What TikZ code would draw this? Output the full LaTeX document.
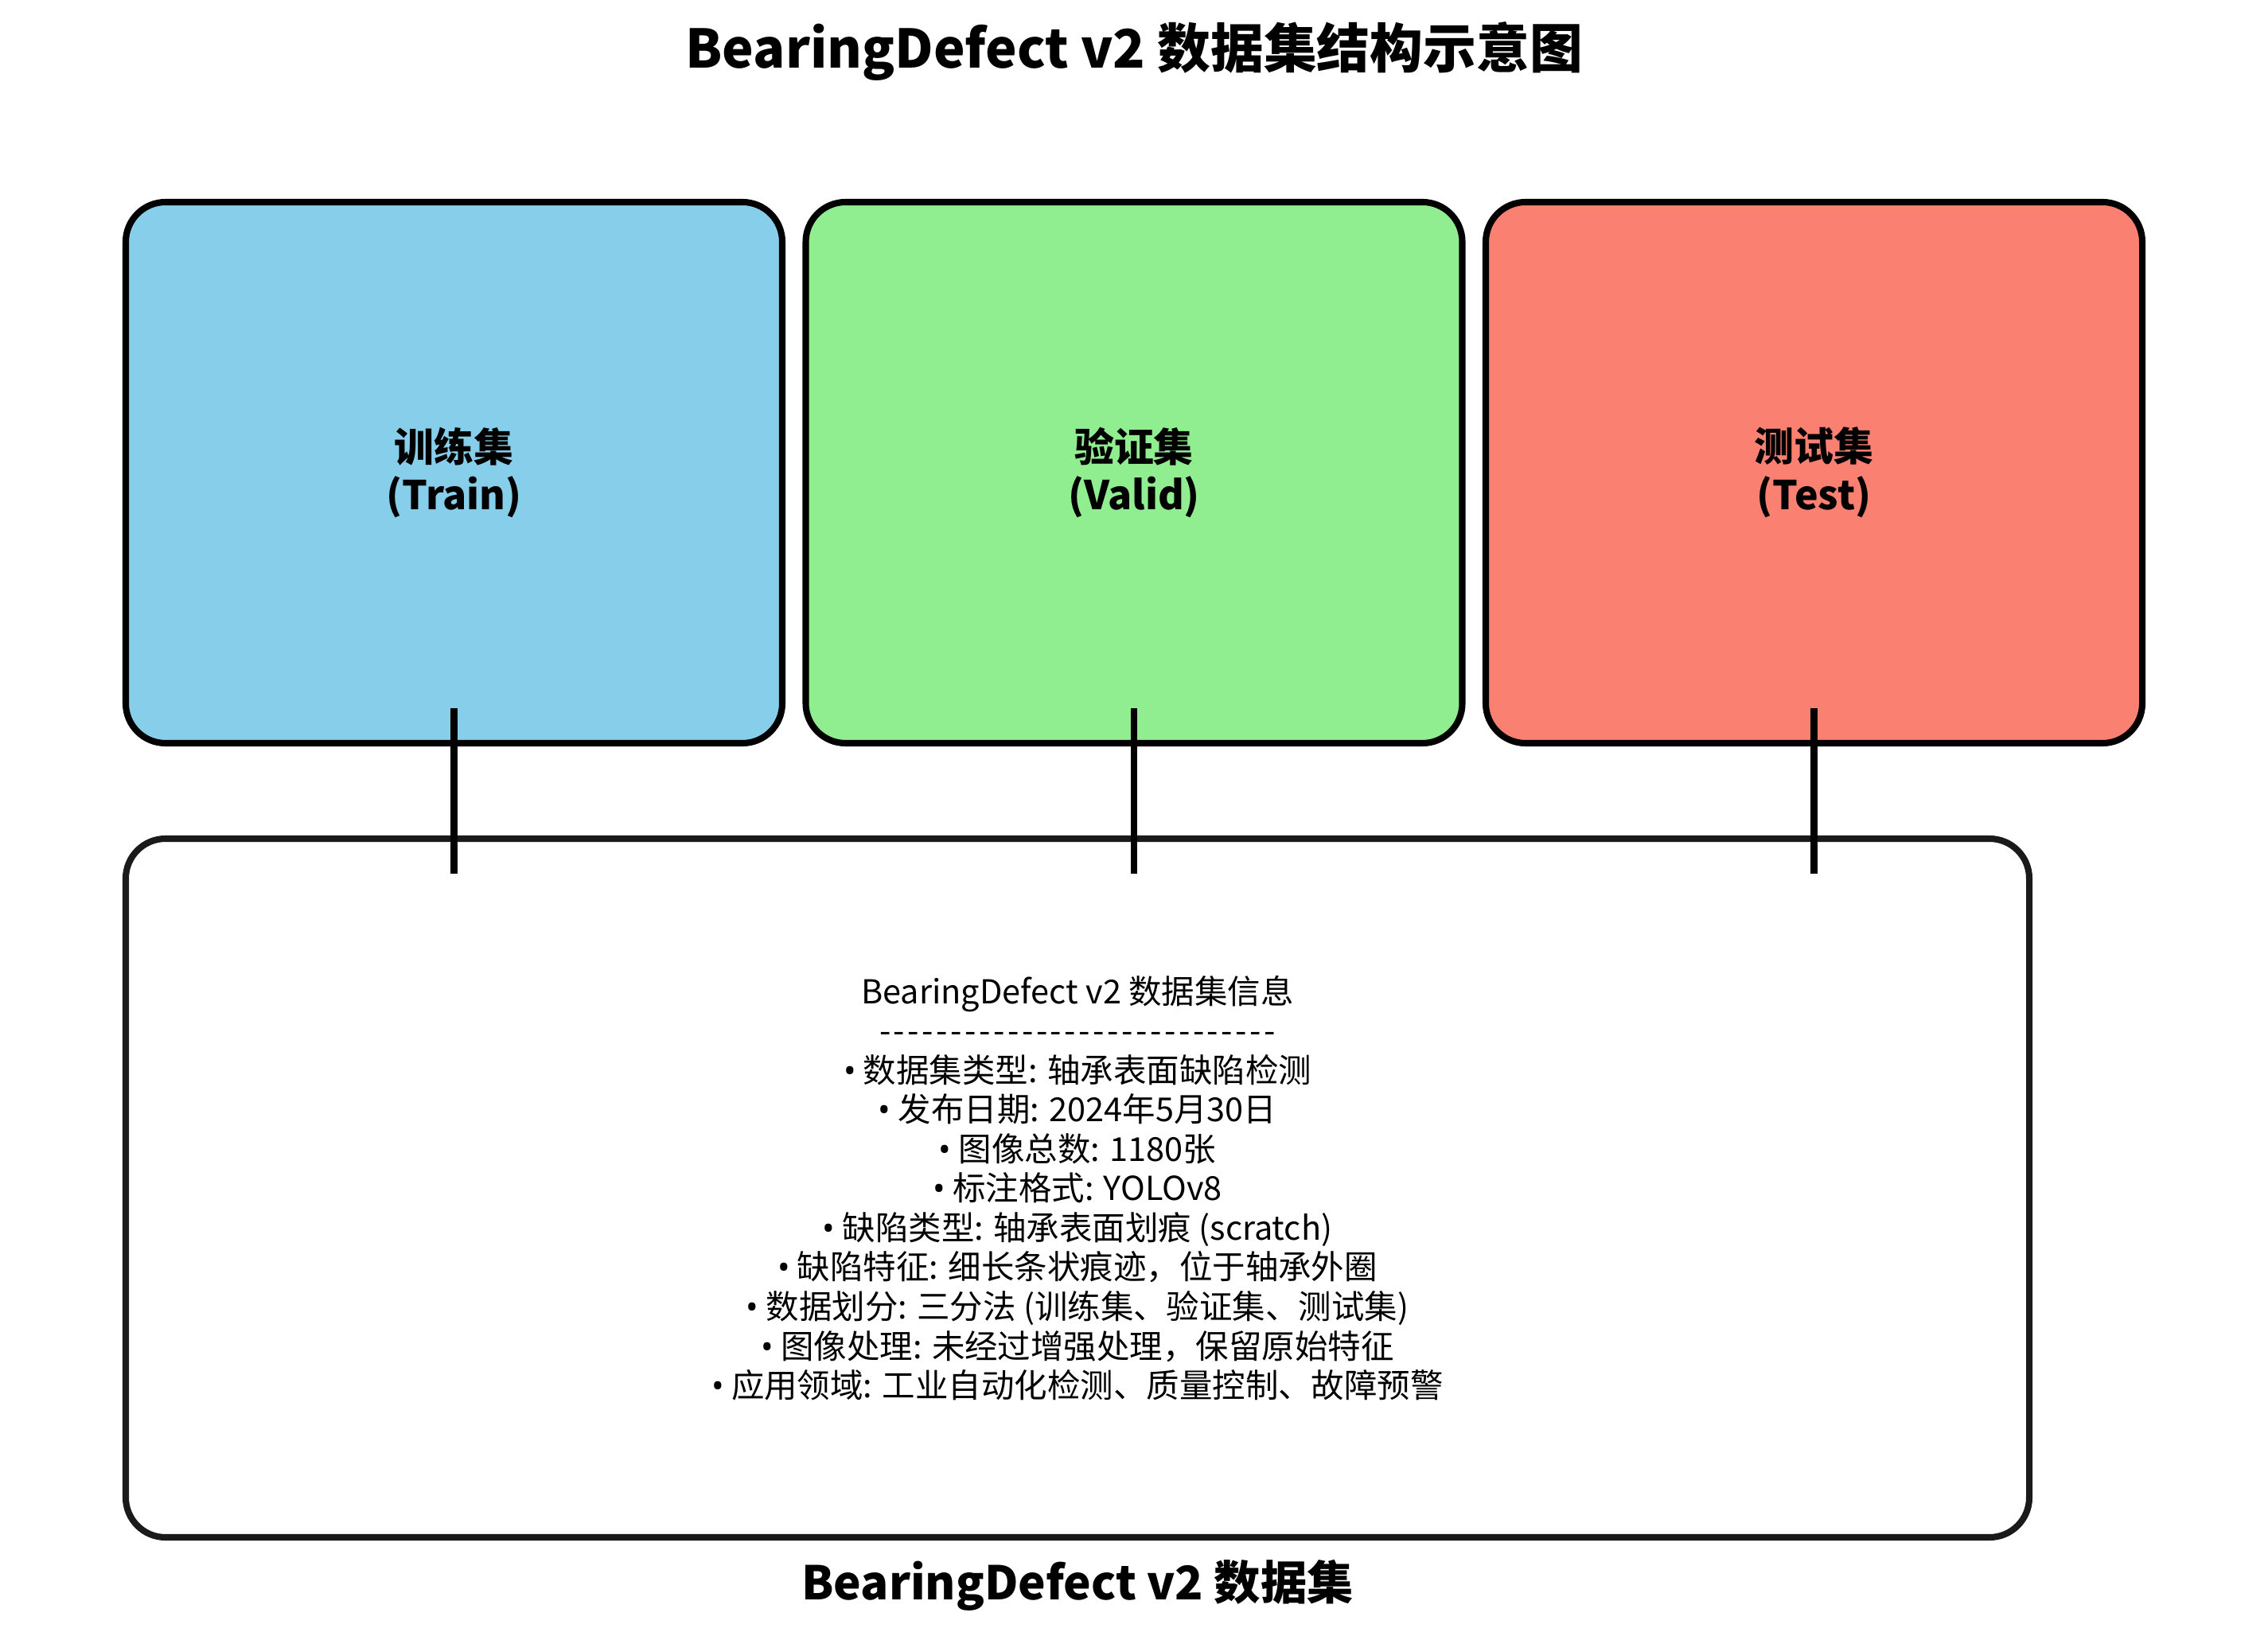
\documentclass[tikz,border=0pt]{standalone}
\usepackage{fontspec}
\setmainfont{Noto Sans CJK SC}
\newfontfamily\bulfont{Noto Sans}
\newcommand\bl{{\bulfont •}}
\newcommand\hy{\kern0.5pt-\kern0.5pt}
\newcommand\hyten{\hy\hy\hy\hy\hy\hy\hy\hy\hy\hy}
\definecolor{trainc}{HTML}{87CEEB}
\definecolor{validc}{HTML}{90EE90}
\definecolor{testc}{HTML}{FA8072}
\definecolor{infoedge}{HTML}{1A1A1A}
\begin{document}
\begin{tikzpicture}[
  splitbox/.style={draw=black, line width=2.3pt, rounded corners=0.5cm,
    minimum width=8.25cm, minimum height=6.8cm, inner sep=0pt,
    font=\fontsize{14.2}{17.3}\selectfont\bfseries, align=center},
  infobox/.style={draw=infoedge, line width=2.3pt, rounded corners=0.5cm,
    minimum width=23.92cm, minimum height=8.78cm, inner sep=0pt},
  link/.style={draw=black, line width=2.3pt}
]
\useasboundingbox (0,0) rectangle (28.5,20.55);
\node[font=\fontsize{19}{23}\selectfont\bfseries] (title) at (14.25,19.91) {BearingDefect v2 数据集结构示意图};
\node[infobox] (info) at (13.54,5.62) {};
\node[align=center, font=\fontsize{11.8}{14.1}\selectfont] (infotext) at (13.54,5.62) {BearingDefect v2 数据集信息\\
\hyten\hyten\hy\hy\hy\hy\hy\hy\hy\hy\\
\bl\ 数据集类型: 轴承表面缺陷检测\\
\bl\ 发布日期: 2024年5月30日\\
\bl\ 图像总数: 1180张\\
\bl\ 标注格式: YOLOv8\\
\bl\ 缺陷类型: 轴承表面划痕 (scratch)\\
\bl\ 缺陷特征: 细长条状痕迹，位于轴承外圈\\
\bl\ 数据划分: 三分法 (训练集、验证集、测试集)\\
\bl\ 图像处理: 未经过增强处理，保留原始特征\\
\bl\ 应用领域: 工业自动化检测、质量控制、故障预警};
\node[splitbox, fill=trainc] (train) at (5.705,14.61) {训练集\\(Train)};
\node[splitbox, fill=validc] (valid) at (14.25,14.61) {验证集\\(Valid)};
\node[splitbox, fill=testc] (test) at (22.795,14.61) {测试集\\(Test)};
\coordinate (a1) at (5.705,11.65);
\coordinate (b1) at (5.705,9.57);
\coordinate (a2) at (14.25,11.65);
\coordinate (b2) at (14.25,9.57);
\coordinate (a3) at (22.795,11.65);
\coordinate (b3) at (22.795,9.57);
\draw[link] (a1) -- (b1);
\draw[link] (a2) -- (b2);
\draw[link] (a3) -- (b3);
\node[font=\fontsize{16.6}{19}\selectfont\bfseries] (bottomtitle) at (13.54,0.63) {BearingDefect v2 数据集};
\end{tikzpicture}
\end{document}
